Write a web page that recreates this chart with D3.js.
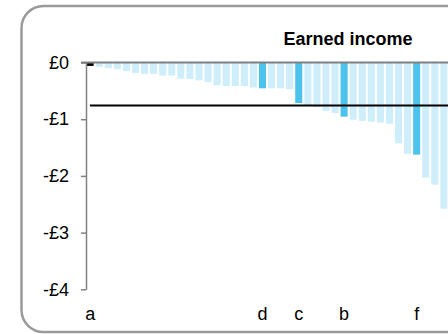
<!DOCTYPE html>
<html>
<head>
<meta charset="utf-8">
<script src="https://cdn.jsdelivr.net/npm/d3@7"></script>
<style>
html,body{margin:0;padding:0;background:#fff;overflow:hidden;}
svg{display:block;font-family:"Liberation Sans",Arial,sans-serif;}
</style>
</head>
<body>
<svg id="chart" width="448" height="334"></svg>
<script>
// ---- data ----
const title = "Earned income";
const values = [-0.06,-0.08,-0.10,-0.115,-0.15,-0.185,-0.20,-0.20,-0.23,-0.23,
                -0.285,-0.29,-0.315,-0.345,-0.40,-0.415,-0.415,-0.415,-0.44,-0.455,
                -0.455,-0.455,-0.47,-0.715,-0.755,-0.79,-0.85,-0.89,-0.955,-1.01,
                -1.03,-1.045,-1.06,-1.08,-1.425,-1.61,-1.625,-2.03,-2.155,-2.58];
const labels = ["a","","","","","","","","","",
                "","","","","","","","","","d",
                "","","","c","","","","","b","",
                "","","","","","","f","","",""];
const kinds = values.map((v,i)=> i===0 ? "base" : (labels[i] ? "highlight" : "other"));
const average = -0.76;
const yTicks = [0,-1,-2,-3,-4];
const yTickLabels = ["£0","-£1","-£2","-£3","-£4"];

// ---- chart ----
const svg = d3.select("#chart");
const colors = {base:"#000000", highlight:"#4cc3ec", other:"#cdeefa"};

svg.append("rect")
  .attr("x",21.5).attr("y",6).attr("width",700).attr("height",326)
  .attr("rx",22).attr("ry",22)
  .attr("fill","none").attr("stroke","#9a9a9a").attr("stroke-width",2.5);

const y = d3.scaleLinear().domain([0,-4]).range([62.5,289.3]);
const step = 9.07, pin = 0.22;
const x = d3.scaleBand().domain(d3.range(values.length))
  .range([86.6, 86.6 + step*(values.length - pin)])
  .paddingInner(pin).paddingOuter(0);

svg.append("g").selectAll("rect").data(values).join("rect")
  .attr("x",(d,i)=>x(i))
  .attr("y",y(0))
  .attr("width",x.bandwidth())
  .attr("height",d=>y(d)-y(0))
  .attr("fill",(d,i)=>colors[kinds[i]]);

// zero line
svg.append("line").attr("x1",81).attr("x2",460).attr("y1",y(0)).attr("y2",y(0))
  .attr("stroke","#808080").attr("stroke-width",2);

// y axis
const yAxis = d3.axisLeft(y).tickValues(yTicks).tickSize(5).tickSizeOuter(0)
  .tickFormat((d,i)=>yTickLabels[i]);
const gy = svg.append("g").attr("transform","translate(86,0)").call(yAxis);
gy.select(".domain").attr("stroke","#808080").attr("stroke-width",1.5);
gy.selectAll(".tick line").attr("stroke","#808080").attr("stroke-width",1.5);
gy.selectAll(".tick text").attr("x",-17).attr("fill","#000")
  .style("font-size","18px").style("font-family","Liberation Sans, Arial, sans-serif");

// average line
svg.append("line").attr("x1",90).attr("x2",460).attr("y1",y(average)).attr("y2",y(average))
  .attr("stroke","#000").attr("stroke-width",2);

// x labels
svg.append("g").selectAll("text").data(labels).join("text")
  .attr("x",(d,i)=>x(i)+x.bandwidth()/2)
  .attr("y",320)
  .attr("text-anchor","middle")
  .style("font-size","18px")
  .attr("fill","#000")
  .text(d=>d);

// title
svg.append("text").attr("x",348).attr("y",45).attr("text-anchor","middle")
  .style("font-size","18px").style("font-weight","bold").attr("fill","#000")
  .text(title);
</script>
</body>
</html>
